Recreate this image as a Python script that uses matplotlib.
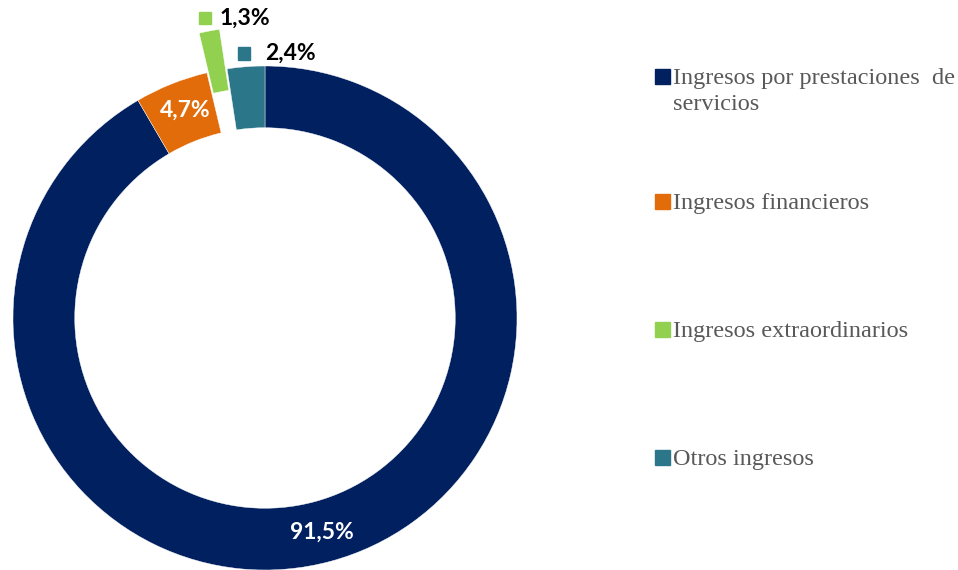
import numpy as np
import matplotlib.pyplot as plt
from matplotlib.patches import Rectangle

categories = ["Ingresos por prestaciones  de\nservicios", "Ingresos financieros",
              "Ingresos extraordinarios", "Otros ingresos"]
values = [91.5, 4.7, 1.3, 2.4]
labels = ["91,5%", "4,7%", "1,3%", "2,4%"]
colors = ["#002060", "#E36C0A", "#92D050", "#2C768A"]
explode = [0, 0, 0.16, 0]

fig = plt.figure(figsize=(9.58, 5.70), dpi=100)
W, H = 958, 570
R = 252
cx, cy = 265, 318
ax = fig.add_axes([(cx - R) / W, (H - cy - R) / H, 2 * R / W, 2 * R / H])
ax.axis("off")

wedges, _ = ax.pie(values, colors=colors, startangle=90, counterclock=False,
                   explode=explode, radius=1,
                   wedgeprops=dict(width=0.245, edgecolor="white", linewidth=0.3))
ax.set_xlim(-1, 1)
ax.set_ylim(-1, 1)
ax.set_aspect("equal")

bold = dict(family=["Lato", "DejaVu Sans"], fontweight="bold", fontsize=16.5)

# labels inside the ring
ax.text(0.226, -0.849, labels[0], color="white", ha="center", va="center", **bold)
ax.text(-0.317, 0.825, labels[1], color="white", ha="center", va="center", **bold)

# labels outside with colour keys
sq = 0.05
for (kx, ky), (tx, ty), i in [((-0.238, 1.19), (-0.18, 1.19), 2), ((-0.083, 1.05), (0.0, 1.05), 3)]:
    ax.add_patch(Rectangle((kx - sq / 2, ky - sq / 2), sq, sq, color=colors[i], clip_on=False))
    ax.text(tx, ty, labels[i], color="black", ha="left", va="center", **bold)

# legend on the right
baselines = [84, 209, 337, 465]
for lab, col, yb in zip(categories, colors, baselines):
    fig.patches.append(Rectangle((655 / W, (H - yb) / H), 15 / W, 15 / H, color=col,
                                 transform=fig.transFigure, figure=fig))
    lines = lab.split("\n")
    for k, line in enumerate(lines):
        fig.text(673 / W, (H - yb - 26 * k) / H, line, color="#595959", fontsize=17.5,
                 family=["Liberation Serif"], ha="left", va="baseline")

fig.savefig("out.png", dpi=100)
